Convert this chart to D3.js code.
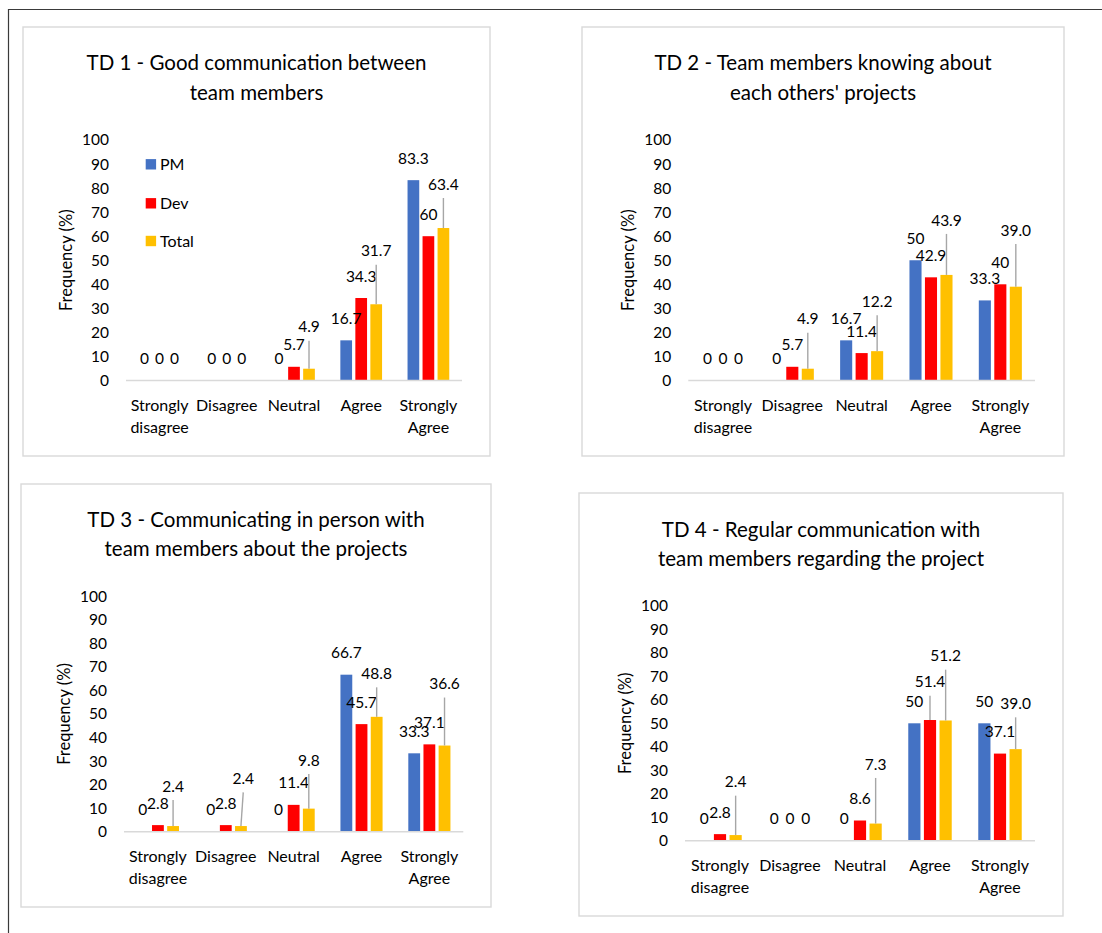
<!DOCTYPE html>
<html><head><meta charset="utf-8">
<script src="https://cdn.jsdelivr.net/npm/d3@7"></script>
<style>html,body{margin:0;padding:0;background:#fff}svg{display:block}</style>
</head><body>
<svg id="c" width="1102" height="933"></svg>
<script>
// ---------- DATA ----------
const categories = ["Strongly disagree", "Disagree", "Neutral", "Agree", "Strongly Agree"];
const seriesNames = ["PM", "Dev", "Total"];
const yTicks = [0, 10, 20, 30, 40, 50, 60, 70, 80, 90, 100];
const titles = [
  ["TD 1 - Good communication between", "team members"],
  ["TD 2 - Team members knowing about", "each others' projects"],
  ["TD 3 - Communicating in person with", "team members about the projects"],
  ["TD 4 - Regular communication with", "team members regarding the project"]
];
const td1PM = [0, 0, 0, 16.7, 83.3];
const td1Dev = [0, 0, 5.7, 34.3, 60];
const td1Total = [0, 0, 4.9, 31.7, 63.4];
const td2PM = [0, 0, 16.7, 50, 33.3];
const td2Dev = [0, 5.7, 11.4, 42.9, 40];
const td2Total = [0, 4.9, 12.2, 43.9, 39.0];
const td3PM = [0, 0, 0, 66.7, 33.3];
const td3Dev = [2.8, 2.8, 11.4, 45.7, 37.1];
const td3Total = [2.4, 2.4, 9.8, 48.8, 36.6];
const td4PM = [0, 0, 0, 50, 50];
const td4Dev = [2.8, 0, 8.6, 51.4, 37.1];
const td4Total = [2.4, 0, 7.3, 51.2, 39.0];
const chartSeries = [
  [td1PM, td1Dev, td1Total],
  [td2PM, td2Dev, td2Total],
  [td3PM, td3Dev, td3Total],
  [td4PM, td4Dev, td4Total]
];

// ---------- LAYOUT / STYLE ----------
const colors = {PM: "#4472C4", Dev: "#FF0000", Total: "#FFC000"};
const FONT = "Lato, 'Open Sans', sans-serif";
const panels = [
  {frame: [23, 27, 490, 456], titleY: [63, 93], plotX: [126, 462], plotY: [380.5, 140], legend: true},
  {frame: [582, 27, 1064, 456], titleY: [63, 93], plotX: [688.3, 1035], plotY: [380.5, 140]},
  {frame: [21, 484, 491, 907], titleY: [520, 549], plotX: [124, 463.3], plotY: [831.7, 596.3]},
  {frame: [579, 493, 1063, 916], titleY: [529.3, 558.3], plotX: [685, 1035], plotY: [840.7, 605.9]}
];
// manual label nudges (pixels) as in the original, keyed panel|series|category index
const labelNudges = [
  {p: 0, s: "Total", c: 2, dx: 0, dy: -20},
  {p: 0, s: "Total", c: 3, dx: 0, dy: -31.6},
  {p: 0, s: "Total", c: 4, dx: 0, dy: -22},
  {p: 1, s: "Total", c: 1, dx: 0, dy: -28},
  {p: 1, s: "Total", c: 2, dx: 0, dy: -28},
  {p: 1, s: "Total", c: 3, dx: 0, dy: -33},
  {p: 1, s: "Total", c: 4, dx: 0, dy: -34.7},
  {p: 2, s: "Total", c: 0, dx: 0, dy: -18},
  {p: 2, s: "Total", c: 1, dx: 2.3, dy: -25.7},
  {p: 2, s: "Total", c: 2, dx: 0, dy: -26.6},
  {p: 2, s: "Total", c: 3, dx: 0, dy: -21.5},
  {p: 2, s: "Total", c: 4, dx: 0, dy: -40},
  {p: 3, s: "Total", c: 0, dx: 0, dy: -31.4},
  {p: 3, s: "Total", c: 2, dx: 0, dy: -37.6},
  {p: 3, s: "Dev", c: 3, dx: 0, dy: -16.3},
  {p: 3, s: "Total", c: 3, dx: 0, dy: -42.8},
  {p: 3, s: "Total", c: 4, dx: 0, dy: -23.8}
];

const svg = d3.select("#c");

// outer page frame (top and left edges visible)
svg.append("line").attr("x1", 8).attr("y1", 9.5).attr("x2", 1102).attr("y2", 9.5)
  .attr("stroke", "#3a3a3a").attr("stroke-width", 1.2);
svg.append("line").attr("x1", 8.5).attr("y1", 9).attr("x2", 8.5).attr("y2", 933)
  .attr("stroke", "#3a3a3a").attr("stroke-width", 1.2);

function fmt(s, v) {
  if (v === 0) return "0";
  return s === "Total" ? v.toFixed(1) : String(v);
}

panels.forEach((P, pi) => {
  const g = svg.append("g");
  const [fx0, fy0, fx1, fy1] = P.frame;
  g.append("rect").attr("x", fx0).attr("y", fy0).attr("width", fx1 - fx0).attr("height", fy1 - fy0)
    .attr("fill", "#fff").attr("stroke", "#d9d9d9").attr("stroke-width", 1.4);

  // title
  const tcx = (fx0 + fx1) / 2;
  titles[pi].forEach((line, li) => {
    g.append("text").attr("x", tcx).attr("y", P.titleY[li]).attr("dy", "0.36em")
      .attr("text-anchor", "middle").attr("font-family", FONT).attr("font-size", 20.5)
      .attr("fill", "#000").text(line);
  });

  const x = d3.scaleBand().domain(categories).range(P.plotX).paddingInner(0).paddingOuter(0);
  const y = d3.scaleLinear().domain([0, 100]).range(P.plotY);
  const groupW = x.bandwidth() * 0.67;
  const xs = d3.scaleBand().domain(seriesNames).range([-groupW / 2, groupW / 2])
    .paddingInner(0.22).paddingOuter(0.11);

  // y axis
  const ax = g.append("g").attr("transform", `translate(${P.plotX[0] - 9},0)`)
    .call(d3.axisLeft(y).tickValues(yTicks).tickSize(0).tickPadding(8).tickFormat(d3.format("d")));
  ax.select(".domain").remove();
  ax.selectAll("text").attr("font-family", FONT).attr("font-size", 15.5).attr("fill", "#000");

  // axis title
  const atx = P.plotX[0] - 60, aty = (P.plotY[0] + P.plotY[1]) / 2;
  g.append("text").attr("transform", `translate(${atx},${aty}) rotate(-90)`).attr("dy", "0.36em")
    .attr("text-anchor", "middle").attr("font-family", FONT).attr("font-size", 16.5)
    .attr("fill", "#000").text("Frequency (%)");

  // bars
  const vals = chartSeries[pi];
  seriesNames.forEach((s, si) => {
    g.append("g").selectAll("rect").data(categories.map((c, ci) => ({c, ci, v: vals[si][ci]})))
      .join("rect")
      .attr("x", d => x(d.c) + x.bandwidth() / 2 + xs(s))
      .attr("y", d => y(d.v))
      .attr("width", xs.bandwidth())
      .attr("height", d => y(0) - y(d.v))
      .attr("fill", colors[s]);
  });

  // baseline
  g.append("line").attr("x1", P.plotX[0]).attr("x2", P.plotX[1])
    .attr("y1", y(0)).attr("y2", y(0)).attr("stroke", "#d9d9d9").attr("stroke-width", 1.5);

  // category labels
  categories.forEach(c => {
    c.split(" ").forEach((w, li) => {
      g.append("text").attr("x", x(c) + x.bandwidth() / 2).attr("y", y(0) + 25 + li * 22)
        .attr("dy", "0.36em").attr("text-anchor", "middle").attr("font-family", FONT)
        .attr("font-size", 16).attr("fill", "#000").text(w);
    });
  });

  // data labels
  seriesNames.forEach((s, si) => {
    categories.forEach((c, ci) => {
      const v = vals[si][ci];
      const bx = x(c) + x.bandwidth() / 2 + xs(s) + xs.bandwidth() / 2;
      const top = y(v);
      const n = labelNudges.find(d => d.p === pi && d.s === s && d.c === ci);
      const lx = bx + (n ? n.dx : 0);
      const ly = top - 22 + (n ? n.dy : 0);
      if (n) {
        g.append("line").attr("x1", lx).attr("y1", ly + 14).attr("x2", bx).attr("y2", top)
          .attr("stroke", "#a6a6a6").attr("stroke-width", 1.4);
      }
      g.append("text").attr("x", lx).attr("y", ly).attr("dy", "0.36em")
        .attr("text-anchor", "middle").attr("font-family", FONT).attr("font-size", 15.5)
        .attr("fill", "#000").text(fmt(s, v));
    });
  });

  // legend
  if (P.legend) {
    const legY = [164.3, 203.3, 241];
    seriesNames.forEach((s, si) => {
      g.append("rect").attr("x", 145.7).attr("y", legY[si] - 5.2).attr("width", 10.4).attr("height", 10.4)
        .attr("fill", colors[s]);
      g.append("text").attr("x", 160).attr("y", legY[si]).attr("dy", "0.36em")
        .attr("font-family", FONT).attr("font-size", 16).attr("fill", "#000").text(s);
    });
  }
});
</script>
</body></html>
